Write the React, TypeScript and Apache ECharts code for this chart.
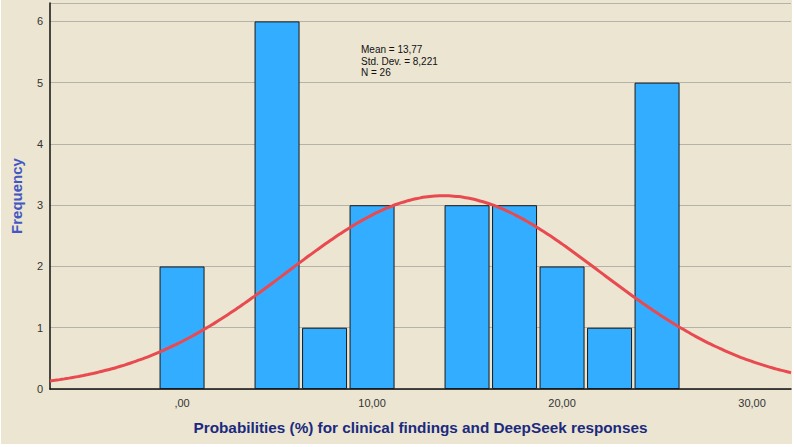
import React, { useEffect, useRef } from "react";
import * as echarts from "echarts";

// Histogram bins (centre of each 2.5-wide bin) and their counts
const binCenters = [0, 5, 7.5, 10, 15, 17.5, 20, 22.5, 25];
const frequencies = [2, 6, 1, 3, 3, 3, 2, 1, 5];
const binWidth = 2.5;

// Summary statistics shown in the chart
const mean = 13.77;
const stdDev = 8.221;
const n = 26;

const xTicks = [0, 10, 20, 30];
const xMin = -6.95;
const xMax = 32.05;

const fmt = (v: number) => {
  const s = v.toFixed(2).replace(".", ",");
  return s.startsWith("0,") ? s.slice(1) : s;
};

// Normal curve scaled to counts per bin
function normalCurve(): [number, number][] {
  const pts: [number, number][] = [];
  const k = (n * binWidth) / (stdDev * Math.sqrt(2 * Math.PI));
  for (let x = xMin; x <= xMax + 1e-9; x += 0.25) {
    const z = (x - mean) / stdDev;
    pts.push([x, k * Math.exp(-0.5 * z * z)]);
  }
  return pts;
}

export default function App() {
  const ref = useRef<HTMLDivElement>(null);

  useEffect(() => {
    if (!ref.current) return;
    const chart = echarts.init(ref.current, undefined, { renderer: "svg" });
    const font = "'Liberation Sans', Arial, sans-serif";
    chart.setOption({
      animation: false,
      backgroundColor: "transparent",
      grid: { left: 50, right: 3, top: 3, bottom: 58, containLabel: false },
      xAxis: {
        type: "value",
        min: xMin,
        max: xMax,
        name: "Probabilities (%) for clinical findings and DeepSeek responses",
        nameLocation: "middle",
        nameGap: 31,
        nameTextStyle: { color: "#1b2a7e", fontSize: 15.3, fontWeight: "bold", fontFamily: font },
        axisLine: { show: true, onZero: false, lineStyle: { color: "#111", width: 1.5 } },
        axisTick: { show: false },
        splitLine: { show: false },
        axisLabel: {
          customValues: xTicks,
          formatter: (v: number) => fmt(v),
          color: "#333",
          fontSize: 11,
          fontFamily: font,
          margin: 8,
        },
      },
      yAxis: {
        type: "value",
        min: 0,
        max: 6.3,
        interval: 1,
        name: "Frequency",
        nameLocation: "middle",
        nameGap: 26,
        nameTextStyle: { color: "#4257c4", fontSize: 15, fontWeight: "bold", fontFamily: font },
        axisLine: { show: true, onZero: false, lineStyle: { color: "#111", width: 1.5 } },
        axisTick: { show: false },
        splitLine: { show: true, lineStyle: { color: "#b5b2aa", width: 1 } },
        axisLabel: {
          showMaxLabel: false,
          color: "#333",
          fontSize: 11,
          fontFamily: font,
          margin: 7,
          formatter: (v: number) => (Number.isInteger(v) ? String(v) : ""),
        },
      },
      graphic: [
        {
          type: "text",
          left: 361,
          top: 44,
          style: {
            text: `Mean = ${mean.toFixed(2).replace(".", ",")}\nStd. Dev. = ${stdDev.toFixed(3).replace(".", ",")}\nN = ${n}`,
            fontSize: 10,
            lineHeight: 11.5,
            fontFamily: font,
            fill: "#111",
          },
        },
      ],
      series: [
        {
          type: "bar",
          data: binCenters.map((c, i) => [c, frequencies[i]]),
          barWidth: 45,
          itemStyle: { color: "#33adff", borderColor: "#1a1a1a", borderWidth: 1 },
          z: 2,
        },
        {
          type: "line",
          data: normalCurve(),
          showSymbol: false,
          smooth: true,
          lineStyle: { color: "#e84a50", width: 3 },
          z: 3,
        },
      ],
    });
    return () => chart.dispose();
  }, []);

  return (
    <div style={{ position: "fixed", left: 0, top: 0, width: 794, height: 447, background: "#ffffff" }}>
      <div style={{ position: "absolute", left: 1, top: 0, width: 791, height: 444, background: "#ebe5d1" }} />
      <div ref={ref} style={{ position: "absolute", left: 0, top: 0, width: 794, height: 447 }} />
    </div>
  );
}
